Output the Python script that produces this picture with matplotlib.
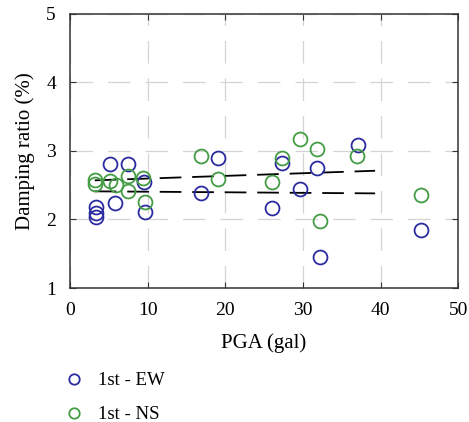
import numpy as np
import matplotlib
matplotlib.use("Agg")
import matplotlib.pyplot as plt

plt.rcParams['font.family'] = ['Liberation Serif', 'DejaVu Serif']

# first mode damping ratio vs PGA, EW direction
pga_ew = [5.2, 7.5, 3.4, 3.4, 3.4, 5.8, 9.6, 9.7, 16.9, 19.1, 26.0, 27.3, 29.6, 31.8, 32.2, 37.1, 45.2]
damp_ew = [2.81, 2.81, 2.18, 2.10, 2.04, 2.24, 2.55, 2.11, 2.39, 2.89, 2.17, 2.83, 2.44, 2.75, 1.45, 3.08, 1.84]

# first mode damping ratio vs PGA, NS direction
pga_ns = [3.2, 3.2, 5.2, 6.0, 7.5, 7.5, 9.4, 9.7, 16.9, 19.1, 26.0, 27.3, 29.6, 31.8, 32.2, 37.0, 45.2]
damp_ns = [2.58, 2.51, 2.56, 2.50, 2.63, 2.42, 2.60, 2.25, 2.93, 2.59, 2.55, 2.90, 3.17, 3.03, 1.97, 2.92, 2.36]

# linear trend lines (end points)
fit_x = [3.2, 39.3]
fit_ns = [2.57, 2.71]
fit_ew = [2.41, 2.38]

fig = plt.figure(figsize=(4.69, 4.22), dpi=100)
ax = fig.add_axes([0.149, 0.3175, 0.828, 0.65])

ax.plot(fit_x, fit_ns, color='black', lw=1.3, dashes=(12, 6), zorder=3)
ax.plot(fit_x, fit_ew, color='black', lw=1.3, dashes=(12, 6), zorder=3)

ax.plot(pga_ew, damp_ew, 'o', mfc='none', mec='#2b2ba0', mew=1.3, ms=10,
        label='1st - EW', zorder=4)
ax.plot(pga_ns, damp_ns, 'o', mfc='none', mec='#449c44', mew=1.3, ms=10,
        label='1st - NS', zorder=4)

ax.set_xlim(0, 50)
ax.set_ylim(1, 5)
ax.set_xticks([0, 10, 20, 30, 40, 50])
ax.set_yticks([1, 2, 3, 4, 5])
ax.grid(True, color='#d4d4d4', ls=(0, (18, 12)), lw=0.9)
ax.tick_params(direction='in', top=True, right=True, length=4, labelsize=14,
               color='#333333')
ax.tick_params(axis='y', pad=10)
ax.tick_params(axis='x', pad=10)
for s in ax.spines.values():
    s.set_color('#333333')
    s.set_linewidth(1.1)

ax.set_xlabel('PGA (gal)', fontsize=15, labelpad=10)
ax.set_ylabel('Damping ratio (%)', fontsize=15, labelpad=8)

h, l = ax.get_legend_handles_labels()
leg = fig.legend(h, l, loc='upper left', bbox_to_anchor=(0.122, 0.136),
                 frameon=False, fontsize=13.5, markerscale=0.75,
                 handlelength=1.0, handletextpad=0.8, labelspacing=0.9,
                 borderaxespad=0)

fig.savefig('out.png', dpi=100)
